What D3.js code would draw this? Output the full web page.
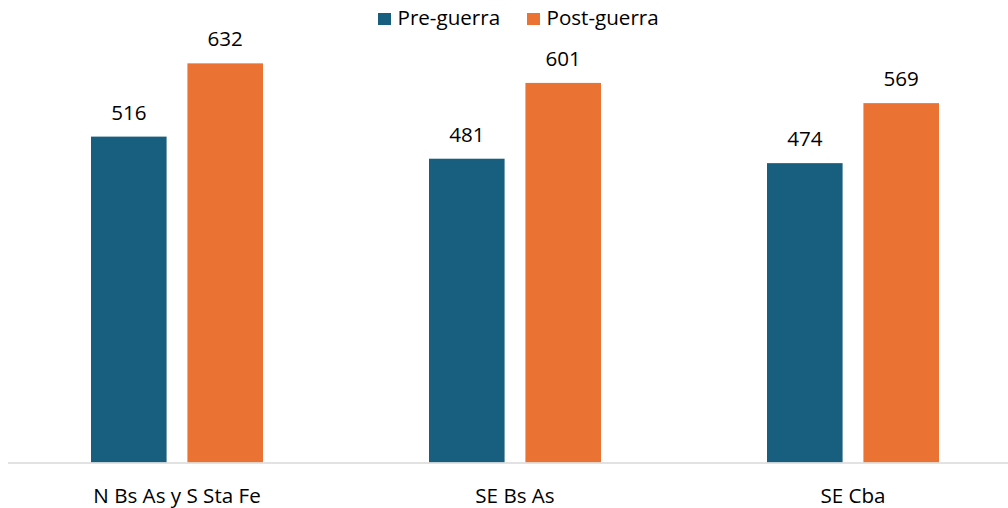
<!DOCTYPE html>
<meta charset="utf-8">
<style>
body {
  margin: 0;
  background: #fff;
  font-family: "Open Sans", sans-serif;
}
.label {
  font-size: 20.6px;
  fill: #000;
}
</style>
<body>
<script src="https://cdn.jsdelivr.net/npm/d3@7"></script>
<script>

var width = 1008,
    height = 508;

var categories = ["N Bs As y S Sta Fe", "SE Bs As", "SE Cba"];
var series = ["Pre-guerra", "Post-guerra"];
var preGuerra = [516, 481, 474];
var postGuerra = [632, 601, 569];
var colors = ["#185f7f", "#ea7233"];

var values = [preGuerra, postGuerra];

var svg = d3.select("body").append("svg")
    .attr("width", width)
    .attr("height", height);

var x0 = d3.scaleBand()
    .domain(categories)
    .range([8, 1022]);

var x1 = d3.scaleBand()
    .domain(series)
    .range([83, 255])
    .paddingInner(0.216);

var y = d3.scaleLinear()
    .domain([0, 700])
    .range([462.5, 20.4]);

var color = d3.scaleOrdinal()
    .domain(series)
    .range(colors);

// one group per category
var groups = svg.selectAll(".group")
    .data(categories)
  .enter().append("g")
    .attr("class", "group")
    .attr("transform", function(d) { return "translate(" + x0(d) + ",0)"; });

groups.selectAll("rect")
    .data(function(d, i) {
      return series.map(function(s, k) { return {key: s, value: values[k][i]}; });
    })
  .enter().append("rect")
    .attr("x", function(d) { return x1(d.key); })
    .attr("y", function(d) { return y(d.value); })
    .attr("width", x1.bandwidth())
    .attr("height", function(d) { return y(0) - y(d.value); })
    .style("fill", function(d) { return color(d.key); });

groups.selectAll(".label")
    .data(function(d, i) {
      return series.map(function(s, k) { return {key: s, value: values[k][i]}; });
    })
  .enter().append("text")
    .attr("class", "label")
    .attr("x", function(d) { return x1(d.key) + x1.bandwidth() / 2; })
    .attr("y", function(d) { return y(d.value) - 17; })
    .attr("text-anchor", "middle")
    .text(function(d) { return d.value; });

// baseline
svg.append("line")
    .attr("x1", 8)
    .attr("x2", 1008)
    .attr("y1", y(0) + 0.5)
    .attr("y2", y(0) + 0.5)
    .style("stroke", "#d9d9d9")
    .style("stroke-width", 1.5);

// category labels
svg.selectAll(".cat")
    .data(categories)
  .enter().append("text")
    .attr("class", "label cat")
    .attr("x", function(d) { return x0(d) + x0.bandwidth() / 2; })
    .attr("y", 503)
    .attr("text-anchor", "middle")
    .text(function(d) { return d; });

// legend
var legendX = [378, 527];
var legend = svg.selectAll(".legend")
    .data(series)
  .enter().append("g")
    .attr("class", "legend")
    .attr("transform", function(d, i) { return "translate(" + legendX[i] + ",13)"; });

legend.append("rect")
    .attr("width", 13)
    .attr("height", 12)
    .style("fill", function(d) { return color(d); });

legend.append("text")
    .attr("class", "label")
    .attr("x", 19.5)
    .attr("y", 12)
    .text(function(d) { return d; });

</script>
